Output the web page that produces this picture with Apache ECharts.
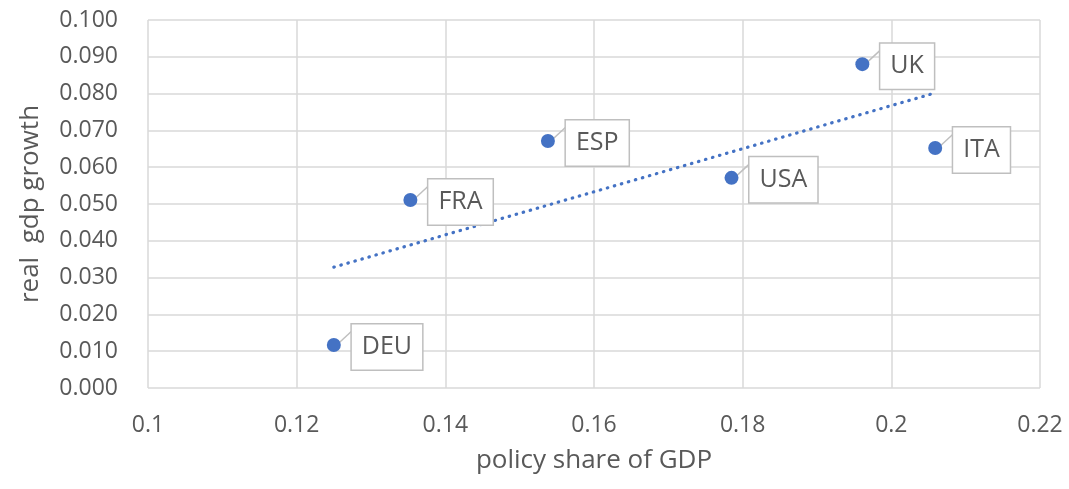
<!DOCTYPE html>
<html>
<head>
<meta charset="utf-8">
<script src="https://cdn.jsdelivr.net/npm/echarts@6/dist/echarts.min.js"></script>
<style>
  html, body { margin: 0; padding: 0; background: #fff; }
  #chart { width: 1069px; height: 489px; }
</style>
</head>
<body>
<div id="chart"></div>
<script>
// Countries and their values
const countries = ['DEU', 'FRA', 'ESP', 'USA', 'UK', 'ITA'];
const policyShare = [0.125, 0.1353, 0.1538, 0.1785, 0.1961, 0.2059];
const gdpGrowth = [0.0117, 0.0511, 0.0671, 0.0571, 0.0880, 0.0652];

// Least-squares linear trend across the countries
function linearTrend(xs, ys) {
  const n = xs.length;
  const mx = xs.reduce((a, b) => a + b, 0) / n;
  const my = ys.reduce((a, b) => a + b, 0) / n;
  let sxy = 0, sxx = 0;
  for (let i = 0; i < n; i++) {
    sxy += (xs[i] - mx) * (ys[i] - my);
    sxx += (xs[i] - mx) * (xs[i] - mx);
  }
  const slope = sxy / sxx;
  const intercept = my - slope * mx;
  const x0 = Math.min(...xs), x1 = Math.max(...xs);
  return [[x0, intercept + slope * x0], [x1, intercept + slope * x1]];
}

const points = countries.map((c, i) => ({ name: c, value: [policyShare[i], gdpGrowth[i]] }));
const trend = linearTrend(policyShare, gdpGrowth);

const textColor = '#595959';
const boxBorder = '#bfbfbf';
const fontFamily = '"Open Sans", "Noto Sans", sans-serif';

// Callout label: a short tail from the marker to a bordered text box
function renderCallout(params, api) {
  const p = api.coord([api.value(0), api.value(1)]);
  const name = countries[params.dataIndex];
  return {
    type: 'group',
    children: [
      {
        type: 'line',
        shape: { x1: p[0] + 5, y1: p[1] - 2, x2: p[0] + 18, y2: p[1] - 14 },
        style: { stroke: boxBorder, lineWidth: 1.5 }
      },
      {
        type: 'text',
        x: p[0] + 18,
        y: p[1] + 2,
        style: {
          text: name,
          fill: textColor,
          fontSize: 25,
          fontFamily,
          lineHeight: 29,
          align: 'left',
          verticalAlign: 'middle',
          backgroundColor: '#ffffff',
          borderColor: boxBorder,
          borderWidth: 1.5,
          padding: [8, 10, 8, 10]
        }
      }
    ]
  };
}

const chart = echarts.init(document.getElementById('chart'));
chart.setOption({
  animation: false,
  backgroundColor: '#ffffff',
  grid: { left: 148, right: 29, top: 20, bottom: 101 },
  xAxis: {
    type: 'value',
    min: 0.1, max: 0.22, interval: 0.02,
    name: 'policy share of GDP',
    nameLocation: 'middle',
    nameGap: 60,
    nameTextStyle: { color: textColor, fontSize: 26, fontFamily },
    axisLine: { show: false },
    axisTick: { show: false },
    axisLabel: {
      color: textColor, fontSize: 23, fontFamily, margin: 26,
      formatter: v => String(parseFloat(v.toFixed(2)))
    },
    splitLine: { show: true, lineStyle: { color: '#d9d9d9', width: 1.5 } }
  },
  yAxis: {
    type: 'value',
    min: 0, max: 0.1, interval: 0.01,
    name: 'real  gdp growth',
    nameLocation: 'middle',
    nameGap: 104,
    nameTextStyle: { color: textColor, fontSize: 26, fontFamily },
    axisLine: { show: false },
    axisTick: { show: false },
    axisLabel: {
      color: textColor, fontSize: 23, fontFamily, margin: 30,
      formatter: v => v.toFixed(3)
    },
    splitLine: { show: true, lineStyle: { color: '#d9d9d9', width: 1.5 } }
  },
  series: [
    {
      type: 'line',
      data: trend,
      showSymbol: false,
      symbol: 'none',
      lineStyle: { color: '#4472C4', width: 3.2, type: [0.5, 6.8], cap: 'round' },
      z: 2
    },
    {
      type: 'custom',
      data: points,
      renderItem: renderCallout,
      encode: { x: 0, y: 1 },
      z: 3
    },
    {
      type: 'scatter',
      data: points,
      symbolSize: 14,
      itemStyle: { color: '#4472C4', opacity: 1 },
      z: 4
    }
  ]
});
</script>
</body>
</html>
